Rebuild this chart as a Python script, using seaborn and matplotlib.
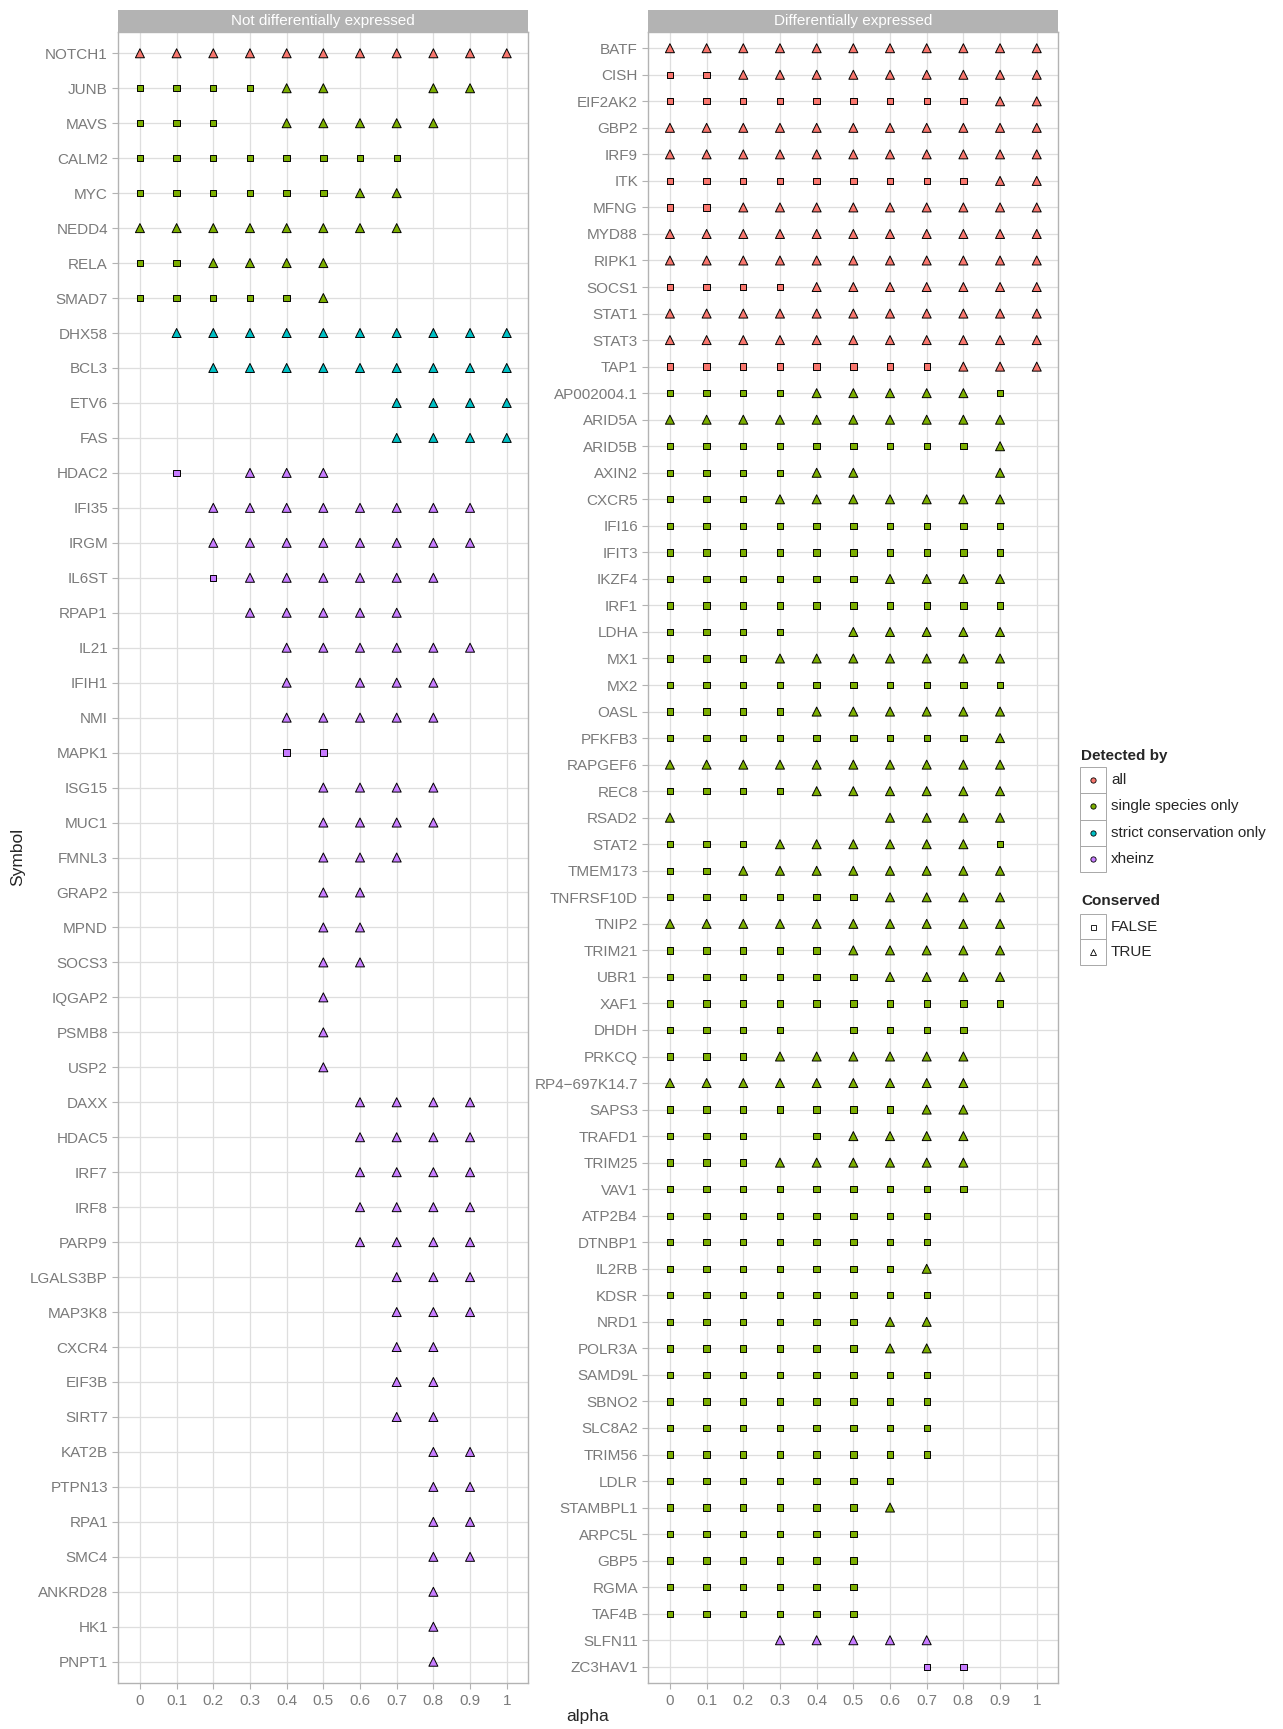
import pandas as pd
import seaborn as sns
import matplotlib.pyplot as plt
from matplotlib.patches import Rectangle

# alpha grid on the x axis
alpha_levels = [0, 0.1, 0.2, 0.3, 0.4, 0.5, 0.6, 0.7, 0.8, 0.9, 1.0]
alpha_tick_labels = ["0", "0.1", "0.2", "0.3", "0.4", "0.5", "0.6", "0.7", "0.8", "0.9", "1"]

# detection method codes
detect_names = {"A": "all", "S": "single species only",
                "C": "strict conservation only", "X": "xheinz"}
detect_levels = ["all", "single species only", "strict conservation only", "xheinz"]
detect_colors = ["#F8766D", "#7CAE00", "#00BFC4", "#C77CFF"]
conserved_levels = ["FALSE", "TRUE"]

# one string per gene, one character per alpha level:
# S = found, not conserved; T = found, conserved; . = not found
nde_genes = ["NOTCH1", "JUNB", "MAVS", "CALM2", "MYC", "NEDD4", "RELA", "SMAD7",
             "DHX58", "BCL3", "ETV6", "FAS", "HDAC2", "IFI35", "IRGM", "IL6ST",
             "RPAP1", "IL21", "IFIH1", "NMI", "MAPK1", "ISG15", "MUC1", "FMNL3",
             "GRAP2", "MPND", "SOCS3", "IQGAP2", "PSMB8", "USP2", "DAXX", "HDAC5",
             "IRF7", "IRF8", "PARP9", "LGALS3BP", "MAP3K8", "CXCR4", "EIF3B", "SIRT7",
             "KAT2B", "PTPN13", "RPA1", "SMC4", "ANKRD28", "HK1", "PNPT1"]
nde_detected = list("ASSSSSSSCCCCXXXXXXXXXXXXXXXXXXXXXXXXXXXXXXXXXXX")
nde_calls = ["TTTTTTTTTTT", "SSSSTT..TT.", "SSS.TTTTT..", "SSSSSSSS...",
             "SSSSSSTT...", "TTTTTTTT...", "SSTTTT.....", "SSSSST.....",
             ".TTTTTTTTTT", "..TTTTTTTTT", ".......TTTT", ".......TTTT",
             ".S.TTT.....", "..TTTTTTTT.", "..TTTTTTTT.", "..STTTTTT..",
             "...TTTTT...", "....TTTTTT.", "....T.TTT..", "....TTTTT..",
             "....SS.....", ".....TTTT..", ".....TTTT..", ".....TTT...",
             ".....TT....", ".....TT....", ".....TT....", ".....T.....",
             ".....T.....", ".....T.....", "......TTTT.", "......TTTT.",
             "......TTTT.", "......TTTT.", "......TTTT.", ".......TTT.",
             ".......TTT.", ".......TT..", ".......TT..", ".......TT..",
             "........TT.", "........TT.", "........TT.", "........TT.",
             "........T..", "........T..", "........T.."]

de_genes = ["BATF", "CISH", "EIF2AK2", "GBP2", "IRF9", "ITK", "MFNG", "MYD88",
            "RIPK1", "SOCS1", "STAT1", "STAT3", "TAP1", "AP002004.1", "ARID5A",
            "ARID5B", "AXIN2", "CXCR5", "IFI16", "IFIT3", "IKZF4", "IRF1", "LDHA",
            "MX1", "MX2", "OASL", "PFKFB3", "RAPGEF6", "REC8", "RSAD2", "STAT2",
            "TMEM173", "TNFRSF10D", "TNIP2", "TRIM21", "UBR1", "XAF1", "DHDH",
            "PRKCQ", "RP4\u2212697K14.7", "SAPS3", "TRAFD1", "TRIM25", "VAV1",
            "ATP2B4", "DTNBP1", "IL2RB", "KDSR", "NRD1", "POLR3A", "SAMD9L",
            "SBNO2", "SLC8A2", "TRIM56", "LDLR", "STAMBPL1", "ARPC5L", "GBP5",
            "RGMA", "TAF4B", "SLFN11", "ZC3HAV1"]
de_detected = list("AAAAAAAAAAAAASSSSSSSSSSSSSSSSSSSSSSSSSSSSSSSSSSSSSSSSSSSSSSSXX")
de_calls = ["TTTTTTTTTTT", "SSTTTTTTTTT", "SSSSSSSSSTT", "TTTTTTTTTTT",
            "TTTTTTTTTTT", "SSSSSSSSSTT", "SSTTTTTTTTT", "TTTTTTTTTTT",
            "TTTTTTTTTTT", "SSSSTTTTTTT", "TTTTTTTTTTT", "TTTTTTTTTTT",
            "SSSSSSSSTTT", "SSSSTTTTTS.", "TTTTTTTTTT.", "SSSSSSSSST.",
            "SSSSTT...T.", "SSSTTTTTTT.", "SSSSSSSSSS.", "SSSSSSSSSS.",
            "SSSSSSTTTT.", "SSSSSSSSSS.", "SSSS.TTTTT.", "SSSTTTTTTT.",
            "SSSSSSSSSS.", "SSSSTTTTTT.", "SSSSSSSSST.", "TTTTTTTTTT.",
            "SSSSTTTTTT.", "T.....TTTT.", "SSSTTTTTTS.", "SSTTTTTTTT.",
            "SSSSSSTTTT.", "TTTTTTTTTT.", "SSSSSTTTTT.", "SSSSSSTTTT.",
            "SSSSSSSSSS.", "SSSS.SSSS..", "SSSTTTTTT..", "TTTTTTTTT..",
            "SSSSSSSTT..", "SSS.STTTT..", "SSSTTTTTT..", "SSSSSSSSS..",
            "SSSSSSSS...", "SSSSSSSS...", "SSSSSSST...", "SSSSSSSS...",
            "SSSSSSTT...", "SSSSSSTT...", "SSSSSSSS...", "SSSSSSSS...",
            "SSSSSSSS...", "SSSSSSSS...", "SSSSSSS....", "SSSSSST....",
            "SSSSSS.....", "SSSSSS.....", "SSSSSS.....", "SSSSSS.....",
            "...TTTTT...", ".......SS.."]

W, H = 1283, 1729
sns.set_theme(style="white")
plt.rcParams["font.family"] = ["Liberation Sans", "DejaVu Sans"]

fig = plt.figure(figsize=(W / 100, H / 100), dpi=100)
panel_top, panel_bot = 32.3, 1682.7
panel_w = 409.7
strip_h = 22.3 / (panel_bot - panel_top)


def long_table(genes, codes, calls):
    rows = []
    for g, c, call in zip(genes, codes, calls):
        for a, mark in zip(alpha_levels, call):
            if mark != ".":
                rows.append({"Symbol": g, "alpha": a,
                             "Detected by": detect_names[c],
                             "Conserved": "TRUE" if mark == "T" else "FALSE"})
    return pd.DataFrame(rows)


def draw_panel(left_px, genes, codes, calls, title):
    ax = fig.add_axes([left_px / W, 1 - panel_bot / H,
                       panel_w / W, (panel_bot - panel_top) / H])
    df = long_table(genes, codes, calls)
    sns.scatterplot(data=df, x="alpha", y="Symbol",
                    hue="Detected by", hue_order=detect_levels,
                    palette=dict(zip(detect_levels, detect_colors)),
                    style="Conserved", style_order=conserved_levels,
                    markers={"FALSE": "s", "TRUE": "^"},
                    size="Conserved", size_order=conserved_levels,
                    sizes={"FALSE": 21, "TRUE": 42},
                    edgecolor="black", linewidth=0.7, legend=False,
                    ax=ax, zorder=3)
    ax.set_xlim(-0.059, 1.058)
    ax.set_ylim(len(genes) - 1 + 0.6, -0.6)
    ax.set_xticks(alpha_levels)
    ax.set_xticklabels(alpha_tick_labels)
    ax.set_xlabel("")
    ax.set_ylabel("")
    ax.grid(True, color="#DEDEDE", linewidth=0.9)
    ax.set_axisbelow(True)
    for sp in ax.spines.values():
        sp.set_color("#B3B3B3")
        sp.set_linewidth(1.0)
    ax.tick_params(axis="both", which="major", length=4.5, width=0.8,
                   color="#B3B3B3", labelcolor="#7A7A7A", labelsize=11)
    ax.tick_params(axis="y", pad=3)
    ax.tick_params(axis="x", pad=3.5)
    ax.tick_params(left=True, bottom=True)
    ax.add_patch(Rectangle((0, 1), 1, strip_h, transform=ax.transAxes,
                           facecolor="#B3B3B3", edgecolor="none", clip_on=False))
    ax.text(0.5, 1 + strip_h / 2, title, transform=ax.transAxes,
            ha="center", va="center", color="white", fontsize=11)
    return ax


draw_panel(118.3, nde_genes, nde_detected, nde_calls, "Not differentially expressed")
draw_panel(648.3, de_genes, de_detected, de_calls, "Differentially expressed")

fig.text(588 / W, 1 - 1717 / H, "alpha", ha="center", va="center", fontsize=12.5)
fig.text(18 / W, 1 - 857 / H, "Symbol", ha="center", va="center",
         rotation=90, fontsize=12.5)

# legend, drawn in pixel coordinates
lax = fig.add_axes([0, 0, 1, 1])
lax.set_xlim(0, W)
lax.set_ylim(H, 0)
lax.axis("off")
lax.patch.set_alpha(0)
key_x, key_w = 1080, 26

lax.text(key_x + 1, 756, "Detected by", fontweight="bold", fontsize=11,
         ha="left", va="center")
key_h = 26.3
for i, (lab, col) in enumerate(zip(detect_levels, detect_colors)):
    top = 767 + i * key_h
    lax.add_patch(Rectangle((key_x, top), key_w, key_h, fill=False,
                            edgecolor="#A8A8A8", linewidth=0.7))
    lax.plot(key_x + key_w / 2, top + key_h / 2, "o", ms=3.8, mfc=col,
             mec="black", mew=0.6)
    lax.text(1111, top + key_h / 2, lab, fontsize=11, ha="left", va="center")

lax.text(key_x + 1, 901, "Conserved", fontweight="bold", fontsize=11,
         ha="left", va="center")
key_h = 25.3
for i, (lab, mk, ms) in enumerate(zip(conserved_levels, ["s", "^"], [3.6, 4.8])):
    top = 914 + i * key_h
    lax.add_patch(Rectangle((key_x, top), key_w, key_h, fill=False,
                            edgecolor="#A8A8A8", linewidth=0.7))
    lax.plot(key_x + key_w / 2, top + key_h / 2, mk, ms=ms, mfc="white",
             mec="black", mew=0.6)
    lax.text(1111, top + key_h / 2, lab, fontsize=11, ha="left", va="center")

fig.savefig("out.png", dpi=100)
